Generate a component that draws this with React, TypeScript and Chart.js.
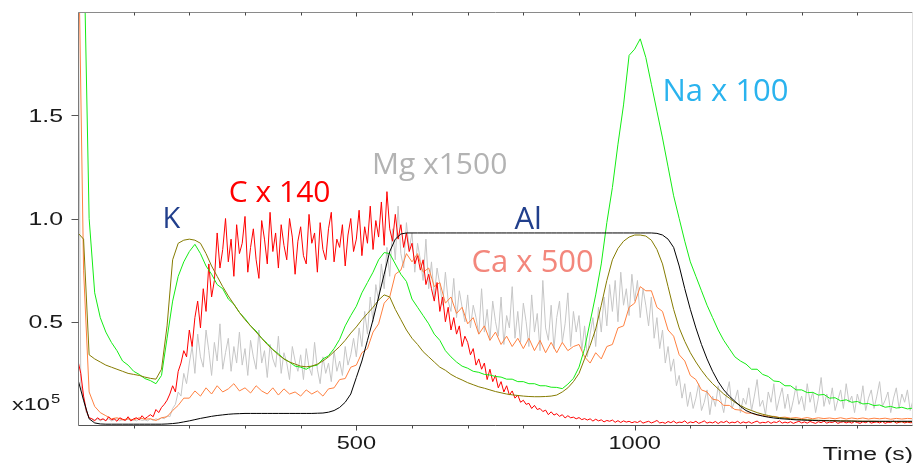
import React, { useEffect, useRef } from 'react';
import { Chart, registerables } from 'chart.js';

Chart.register(...registerables);

// ---- axis description ----
const X_MIN = 0;
const X_MAX = 1500;
const Y_MIN = 0;
const Y_MAX = 2.0;
const X_MINOR_TICKS = [100, 200, 300, 400, 500, 600, 700, 800, 900, 1000, 1100, 1200, 1300, 1400];
const X_LABELED_TICKS = [500, 1000];
const Y_LABELED_TICKS = [0.5, 1.0, 1.5];
const Y_TICK_TEXT = ['0.5', '1.0', '1.5'];
const X_TITLE = 'Time (s)';
const Y_MULT_BASE = 'x10';
const Y_MULT_EXP = '5';

// sampling steps of the traces (seconds)
const STEP_FINE = 5;
const STEP_COARSE = 10;

// ---- series (x10^5 counts), C and Mg sampled every 5 s, others every 10 s ----
const C_X140 = [
  0.31, 0.25, 0.14, 0.07, 0.035, 0.03, 0.02, 0.035, 0.025, 0.03, 0.02, 0.04, 0.025, 0.03, 0.018, 0.035, 0.028, 0.022, 0.04, 0.02,
  0.03, 0.035, 0.025, 0.045, 0.03, 0.04, 0.05, 0.04, 0.075, 0.06, 0.085, 0.1, 0.12, 0.15, 0.19, 0.16, 0.26, 0.3, 0.36, 0.33,
  0.46, 0.38, 0.52, 0.6, 0.47, 0.66, 0.55, 0.78, 0.62, 0.7, 0.93, 0.76, 0.85, 1.0, 0.79, 0.9, 0.72, 0.97, 0.83, 0.88,
  1.01, 0.74, 0.86, 0.95, 0.8, 0.71, 0.99, 0.9, 0.78, 1.03, 0.84, 0.93, 0.76, 0.97, 0.87, 0.8, 1.0, 0.91, 0.73, 0.89,
  0.96, 0.82, 0.78, 1.02, 0.88, 0.93, 0.74, 0.98, 0.85, 0.8, 0.95, 1.03, 0.79, 0.9, 0.86, 0.97, 0.77, 0.92, 1.0, 0.84,
  0.9, 1.04, 0.82, 0.96, 0.88, 1.06, 0.85, 0.99, 0.91, 1.08, 0.87, 1.13, 0.95, 0.89, 1.02, 0.9, 0.97, 0.86, 0.93, 0.84,
  0.88, 0.78, 0.82, 0.75, 0.8, 0.68, 0.73, 0.66, 0.6, 0.69, 0.55, 0.62, 0.5, 0.57, 0.46, 0.52, 0.44, 0.48, 0.38, 0.43,
  0.4, 0.34, 0.37, 0.29, 0.32, 0.27, 0.3, 0.22, 0.27, 0.21, 0.24, 0.18, 0.21, 0.16, 0.19, 0.145, 0.165, 0.13, 0.145, 0.11,
  0.12, 0.1, 0.105, 0.08, 0.095, 0.075, 0.08, 0.065, 0.072, 0.05, 0.064, 0.048, 0.055, 0.042, 0.05, 0.034, 0.045, 0.035, 0.038, 0.03,
  0.036, 0.026, 0.031, 0.024, 0.03, 0.019, 0.028, 0.02, 0.025, 0.015, 0.022, 0.018, 0.024, 0.013, 0.021, 0.012, 0.02, 0.014, 0.018, 0.011,
  0.016, 0.012, 0.02, 0.009, 0.014, 0.018, 0.01, 0.015, 0.022, 0.01, 0.013, 0.008, 0.017, 0.011, 0.019, 0.009, 0.014, 0.012, 0.02, 0.008,
  0.015, 0.011, 0.018, 0.008, 0.013, 0.02, 0.009, 0.014, 0.01, 0.017, 0.007, 0.016, 0.012, 0.019, 0.009, 0.014, 0.011, 0.018, 0.008, 0.015,
  0.01, 0.016, 0.008, 0.014, 0.019, 0.009, 0.013, 0.011, 0.017, 0.008, 0.015, 0.012, 0.02, 0.009, 0.014, 0.01, 0.016, 0.008, 0.013, 0.018,
  0.01, 0.015, 0.009, 0.017, 0.012, 0.008, 0.016, 0.011, 0.019, 0.009, 0.014, 0.012, 0.018, 0.008, 0.013, 0.016, 0.01, 0.015, 0.009, 0.017,
  0.012, 0.008, 0.016, 0.011, 0.018, 0.009, 0.013, 0.015, 0.01, 0.017, 0.008, 0.014, 0.012, 0.019, 0.009, 0.013, 0.016, 0.01, 0.014, 0.011, 0.012,
];

const MG_X1500 = [
  2.3, 0.2, 0.12, 0.06, 0.035, 0.03, 0.025, 0.03, 0.02, 0.028, 0.022, 0.03, 0.02, 0.025, 0.03, 0.02, 0.026, 0.022, 0.03, 0.02,
  0.025, 0.02, 0.028, 0.022, 0.025, 0.02, 0.03, 0.022, 0.03, 0.025, 0.035, 0.03, 0.045, 0.04, 0.08, 0.1, 0.16, 0.14, 0.25, 0.2,
  0.3, 0.38, 0.25, 0.44, 0.33, 0.28, 0.46, 0.36, 0.24, 0.4, 0.31, 0.49, 0.27, 0.35, 0.42, 0.26, 0.38, 0.3, 0.45, 0.29,
  0.37, 0.24, 0.41, 0.33, 0.27, 0.46, 0.3, 0.36, 0.23, 0.39, 0.32, 0.28, 0.43, 0.25, 0.35, 0.3, 0.22, 0.38, 0.31, 0.26,
  0.34, 0.22, 0.37, 0.28, 0.24, 0.4, 0.27, 0.2, 0.33, 0.25, 0.3, 0.21, 0.36, 0.26, 0.31, 0.24, 0.38, 0.29, 0.34, 0.42,
  0.33, 0.47, 0.38, 0.55, 0.44, 0.62, 0.5, 0.68, 0.6, 0.78, 0.66, 0.86, 0.72, 0.95, 0.8, 1.06, 0.83, 0.76, 0.98, 0.85,
  0.93, 0.74, 0.88, 0.8, 0.7, 0.9, 0.66, 0.79, 0.62, 0.76, 0.68, 0.58, 0.74, 0.6, 0.55, 0.71, 0.52, 0.65, 0.57, 0.5,
  0.63, 0.47, 0.58, 0.52, 0.44, 0.66, 0.45, 0.56, 0.41, 0.6, 0.5, 0.43, 0.62, 0.39, 0.53, 0.47, 0.67, 0.42, 0.55, 0.4,
  0.59, 0.5, 0.38, 0.63, 0.45, 0.54, 0.36, 0.7, 0.47, 0.41, 0.58, 0.37, 0.52, 0.6, 0.4, 0.49, 0.64, 0.38, 0.55, 0.45,
  0.53, 0.36, 0.48, 0.33, 0.44, 0.52, 0.38, 0.57, 0.45, 0.62, 0.48, 0.68, 0.55, 0.7, 0.5, 0.74, 0.58, 0.66, 0.53, 0.73,
  0.6, 0.7, 0.52, 0.66, 0.58, 0.48, 0.62, 0.42, 0.52, 0.37, 0.46, 0.3, 0.38, 0.26, 0.32, 0.19, 0.24, 0.13, 0.2, 0.09,
  0.16, 0.08, 0.13, 0.2, 0.07, 0.11, 0.17, 0.05, 0.14, 0.09, 0.19, 0.12, 0.06, 0.15, 0.21, 0.08, 0.12, 0.17, 0.06, 0.13,
  0.1, 0.18, 0.07, 0.14, 0.22, 0.09, 0.12, 0.05, 0.16, 0.11, 0.2, 0.07, 0.13, 0.18, 0.08, 0.15, 0.06, 0.12, 0.19, 0.1,
  0.14, 0.07, 0.2, 0.11, 0.16, 0.06, 0.13, 0.23, 0.09, 0.15, 0.1, 0.18, 0.07, 0.12, 0.17, 0.08, 0.2, 0.11, 0.14, 0.06,
  0.15, 0.1, 0.19, 0.07, 0.13, 0.17, 0.08, 0.14, 0.21, 0.09, 0.12, 0.16, 0.06, 0.13, 0.18, 0.08, 0.15, 0.11, 0.17, 0.07, 0.12,
];

const CA_X500 = [
  2.5, 0.75, 0.16, 0.09, 0.06, 0.045, 0.03, 0.035, 0.025, 0.03,
  0.025, 0.035, 0.028, 0.03, 0.022, 0.035, 0.04, 0.07, 0.095, 0.13,
  0.13, 0.165, 0.14, 0.18, 0.15, 0.19, 0.16, 0.175, 0.2, 0.165,
  0.18, 0.155, 0.19, 0.165, 0.15, 0.18, 0.145, 0.175, 0.15, 0.16,
  0.14, 0.17, 0.15, 0.165, 0.14, 0.175, 0.18, 0.22, 0.225, 0.28,
  0.29, 0.35, 0.37, 0.45, 0.49, 0.59, 0.62, 0.73, 0.75, 0.83,
  0.79, 0.83, 0.74, 0.76, 0.67, 0.69, 0.59, 0.62, 0.54, 0.57,
  0.49, 0.52, 0.44, 0.48, 0.41, 0.45, 0.39, 0.43, 0.38, 0.42,
  0.37, 0.42, 0.36, 0.41, 0.35, 0.4, 0.35, 0.4, 0.36, 0.38,
  0.39, 0.33, 0.3, 0.35, 0.32, 0.38, 0.39, 0.47, 0.48, 0.57,
  0.59, 0.67, 0.65, 0.65, 0.57, 0.55, 0.46, 0.43, 0.34, 0.31,
  0.24, 0.22, 0.17, 0.16, 0.125, 0.12, 0.095, 0.095, 0.075, 0.072,
  0.058, 0.057, 0.048, 0.047, 0.04, 0.042, 0.036, 0.038, 0.033, 0.036,
  0.031, 0.036, 0.03, 0.035, 0.031, 0.034, 0.03, 0.035, 0.029, 0.034,
  0.03, 0.034, 0.029, 0.033, 0.03, 0.033, 0.028, 0.032, 0.029, 0.032, 0.03,
];

const NA_X100 = [
  2.5, 2.4, 1.0, 0.64, 0.52, 0.45, 0.4, 0.36, 0.31, 0.29,
  0.26, 0.245, 0.225, 0.215, 0.2, 0.24, 0.42, 0.6, 0.72, 0.79,
  0.84, 0.875, 0.83, 0.77, 0.73, 0.68, 0.66, 0.61, 0.585, 0.545,
  0.515, 0.48, 0.455, 0.42, 0.395, 0.365, 0.345, 0.32, 0.305, 0.285,
  0.28, 0.27, 0.285, 0.29, 0.32, 0.335, 0.37, 0.415, 0.48, 0.53,
  0.575, 0.64, 0.69, 0.74, 0.8, 0.835, 0.83, 0.78, 0.73, 0.695,
  0.61, 0.57, 0.53, 0.49, 0.44, 0.41, 0.36, 0.33, 0.305, 0.285,
  0.275, 0.26, 0.255, 0.245, 0.242, 0.235, 0.232, 0.222, 0.222, 0.21,
  0.21, 0.2, 0.2, 0.19, 0.19, 0.183, 0.182, 0.176, 0.198, 0.226,
  0.28, 0.37, 0.5, 0.63, 0.78, 0.98, 1.15, 1.36, 1.55, 1.79,
  1.82, 1.87, 1.78, 1.65, 1.52, 1.39, 1.25, 1.11, 1.0, 0.89,
  0.79, 0.72, 0.65, 0.58, 0.52, 0.46, 0.41, 0.37, 0.33, 0.31,
  0.295, 0.27, 0.27, 0.245, 0.235, 0.213, 0.21, 0.19, 0.19, 0.17,
  0.17, 0.157, 0.158, 0.145, 0.148, 0.13, 0.132, 0.117, 0.122, 0.11,
  0.114, 0.102, 0.104, 0.094, 0.097, 0.086, 0.09, 0.082, 0.086, 0.078, 0.082,
];

const K_COUNTS = [
  0.93, 0.9, 0.34, 0.32, 0.305, 0.29, 0.28, 0.27, 0.26, 0.25,
  0.245, 0.24, 0.232, 0.226, 0.222, 0.27, 0.48, 0.8, 0.88, 0.895,
  0.9, 0.895, 0.88, 0.83, 0.77, 0.72, 0.67, 0.625, 0.585, 0.545,
  0.51, 0.48, 0.45, 0.42, 0.39, 0.365, 0.34, 0.32, 0.305, 0.295,
  0.285, 0.282, 0.285, 0.295, 0.31, 0.33, 0.355, 0.38, 0.41, 0.445,
  0.475, 0.51, 0.54, 0.57, 0.605, 0.63, 0.62, 0.56, 0.51, 0.46,
  0.42, 0.39, 0.355, 0.33, 0.305, 0.28, 0.265, 0.245, 0.23, 0.218,
  0.205, 0.195, 0.185, 0.178, 0.17, 0.162, 0.156, 0.15, 0.146, 0.143,
  0.14, 0.138, 0.137, 0.137, 0.138, 0.14, 0.145, 0.16, 0.18, 0.21,
  0.25, 0.32, 0.385, 0.465, 0.58, 0.7, 0.8, 0.855, 0.89, 0.91,
  0.92, 0.92, 0.915, 0.895, 0.85, 0.78, 0.67, 0.56, 0.47, 0.405,
  0.35, 0.305, 0.265, 0.23, 0.2, 0.175, 0.15, 0.13, 0.11, 0.095,
  0.08, 0.07, 0.06, 0.052, 0.046, 0.04, 0.036, 0.033, 0.03, 0.028,
  0.026, 0.025, 0.024, 0.023, 0.022, 0.022, 0.021, 0.02, 0.02, 0.019,
  0.019, 0.018, 0.018, 0.018, 0.017, 0.017, 0.017, 0.016, 0.016, 0.016, 0.016,
];

const AL_COUNTS = [
  0.22, 0.12, 0.03, 0.01, 0.005, 0.004, 0.004, 0.004, 0.004, 0.004,
  0.004, 0.004, 0.004, 0.004, 0.004, 0.004, 0.005, 0.007, 0.01, 0.015,
  0.02, 0.026, 0.032, 0.037, 0.042, 0.046, 0.049, 0.052, 0.054, 0.055,
  0.056, 0.056, 0.056, 0.056, 0.056, 0.056, 0.056, 0.056, 0.056, 0.056,
  0.056, 0.056, 0.056, 0.057, 0.058, 0.062, 0.07, 0.085, 0.11, 0.15,
  0.23, 0.31, 0.41, 0.51, 0.62, 0.73, 0.84, 0.9, 0.925, 0.93,
  0.93, 0.93, 0.93, 0.93, 0.93, 0.93, 0.93, 0.93, 0.93, 0.93,
  0.93, 0.93, 0.93, 0.93, 0.93, 0.93, 0.93, 0.93, 0.93, 0.93,
  0.93, 0.93, 0.93, 0.93, 0.93, 0.93, 0.93, 0.93, 0.93, 0.93,
  0.93, 0.93, 0.93, 0.93, 0.93, 0.93, 0.93, 0.93, 0.93, 0.93,
  0.93, 0.93, 0.93, 0.93, 0.928, 0.92, 0.9, 0.86, 0.77, 0.66,
  0.56, 0.47, 0.39, 0.32, 0.26, 0.21, 0.17, 0.14, 0.115, 0.09,
  0.07, 0.058, 0.05, 0.043, 0.038, 0.034, 0.031, 0.029, 0.027, 0.025,
  0.024, 0.023, 0.022, 0.021, 0.021, 0.02, 0.02, 0.019, 0.019, 0.019,
  0.018, 0.018, 0.018, 0.018, 0.018, 0.018, 0.018, 0.018, 0.018, 0.018, 0.018,
];

// ---- in-plot labels ----
const ANNOTATIONS = [
  { text: 'K', t: 152, v: 0.953, color: '#213f8c', size: 29 },
  { text: 'C x 140', t: 271, v: 1.082, color: '#ff0000', size: 30 },
  { text: 'Mg x1500', t: 528, v: 1.216, color: '#b3b3b3', size: 30 },
  { text: 'Al', t: 784, v: 0.948, color: '#213f8c', size: 31 },
  { text: 'Ca x 500', t: 707, v: 0.743, color: '#f3877c', size: 31 },
  { text: 'Na x 100', t: 1050, v: 1.567, color: '#2ab3ee', size: 31 },
];

const AXIS_FONT = '18px "Liberation Sans", Arial, sans-serif';
const TEXT_STRETCH = 1.38;

function series(values: number[], step: number) {
  return values.map((v, i) => ({ x: i * step, y: v }));
}

function stretchedText(ctx: CanvasRenderingContext2D, text: string, x: number, y: number, align: CanvasTextAlign, sx: number) {
  ctx.save();
  ctx.translate(x, y);
  ctx.scale(sx, 1);
  ctx.textAlign = align;
  ctx.fillText(text, 0, 0);
  ctx.restore();
}

const decorPlugin = {
  id: 'decor',
  afterDatasetsDraw(chart: any) {
    const { ctx, chartArea: a, scales } = chart;
    const xs = scales.x;
    const ys = scales.y;
    ctx.save();
    ctx.lineWidth = 1;
    const seg = (x1: number, y1: number, x2: number, y2: number, c: string) => {
      ctx.strokeStyle = c;
      ctx.beginPath();
      ctx.moveTo(x1, y1);
      ctx.lineTo(x2, y2);
      ctx.stroke();
    };
    const L = Math.round(a.left) + 0.5;
    const R = Math.round(a.right) - 0.5;
    const T = Math.round(a.top) + 0.5;
    const B = Math.round(a.bottom) + 0.5;
    seg(L, T, R, T, '#8a8a8a');
    seg(R, T, R, B, '#e2e2e2');
    seg(L, T, L, B, '#7a7a7a');
    seg(L, B, R, B, '#555555');
    X_MINOR_TICKS.forEach((t) => {
      const px = Math.round(xs.getPixelForValue(t)) + 0.5;
      const major = X_LABELED_TICKS.includes(t);
      seg(px, B, px, B + (major ? 5 : 3), '#444444');
      seg(px, T, px, T + (major ? 4 : 3), '#444444');
    });
    Y_LABELED_TICKS.forEach((v) => {
      const py = Math.round(ys.getPixelForValue(v)) + 0.5;
      seg(L - 7, py, L, py, '#555555');
    });
    ctx.fillStyle = '#1a1a1a';
    ctx.font = AXIS_FONT;
    ctx.textBaseline = 'alphabetic';
    Y_LABELED_TICKS.forEach((v, i) => {
      stretchedText(ctx, Y_TICK_TEXT[i], 63, ys.getPixelForValue(v) + 6.6, 'right', TEXT_STRETCH);
    });
    X_LABELED_TICKS.forEach((t) => {
      stretchedText(ctx, String(t), xs.getPixelForValue(t), 449, 'center', TEXT_STRETCH * 0.95);
    });
    stretchedText(ctx, X_TITLE, a.right, 460, 'right', TEXT_STRETCH);
    ctx.font = '17px "Liberation Sans", Arial, sans-serif';
    stretchedText(ctx, Y_MULT_BASE, 12, 410, 'left', TEXT_STRETCH);
    ctx.font = '12px "Liberation Sans", Arial, sans-serif';
    stretchedText(ctx, Y_MULT_EXP, 51, 403, 'left', TEXT_STRETCH);
    ANNOTATIONS.forEach((an) => {
      ctx.font = `${an.size}px "Open Sans", sans-serif`;
      ctx.fillStyle = an.color;
      ctx.textAlign = 'left';
      ctx.fillText(an.text, xs.getPixelForValue(an.t), ys.getPixelForValue(an.v));
    });
    ctx.restore();
  },
};

export default function App() {
  const ref = useRef<HTMLCanvasElement | null>(null);
  useEffect(() => {
    if (!ref.current) return;
    const line = (label: string, data: any[], color: string, order: number) => ({
      label,
      data,
      borderColor: color,
      backgroundColor: color,
      borderWidth: 1,
      pointRadius: 0,
      tension: 0,
      fill: false,
      order,
    });
    const chart = new Chart(ref.current, {
      type: 'line',
      data: {
        datasets: [
          line('Al', series(AL_COUNTS, STEP_COARSE), '#000000', 1),
          line('K', series(K_COUNTS, STEP_COARSE), '#857b00', 2),
          line('Na x 100', series(NA_X100, STEP_COARSE), '#14ec14', 3),
          line('C x 140', series(C_X140, STEP_FINE), '#ff0000', 4),
          line('Ca x 500', series(CA_X500, STEP_COARSE), '#ff8040', 5),
          line('Mg x1500', series(MG_X1500, STEP_FINE), '#c6c6c6', 6),
        ],
      },
      options: {
        responsive: false,
        animation: false,
        devicePixelRatio: 1,
        layout: { padding: { left: 78, right: 2, top: 12, bottom: 38 } },
        plugins: { legend: { display: false }, tooltip: { enabled: false } },
        scales: {
          x: { type: 'linear', min: X_MIN, max: X_MAX, display: false },
          y: { type: 'linear', min: Y_MIN, max: Y_MAX, display: false },
        },
      },
      plugins: [decorPlugin],
    });
    return () => chart.destroy();
  }, []);
  return (
    <div style={{ position: 'fixed', left: 0, top: 0, width: 915, height: 463, background: '#ffffff' }}>
      <canvas ref={ref} width={915} height={463} style={{ display: 'block', width: 915, height: 463 }} />
    </div>
  );
}
